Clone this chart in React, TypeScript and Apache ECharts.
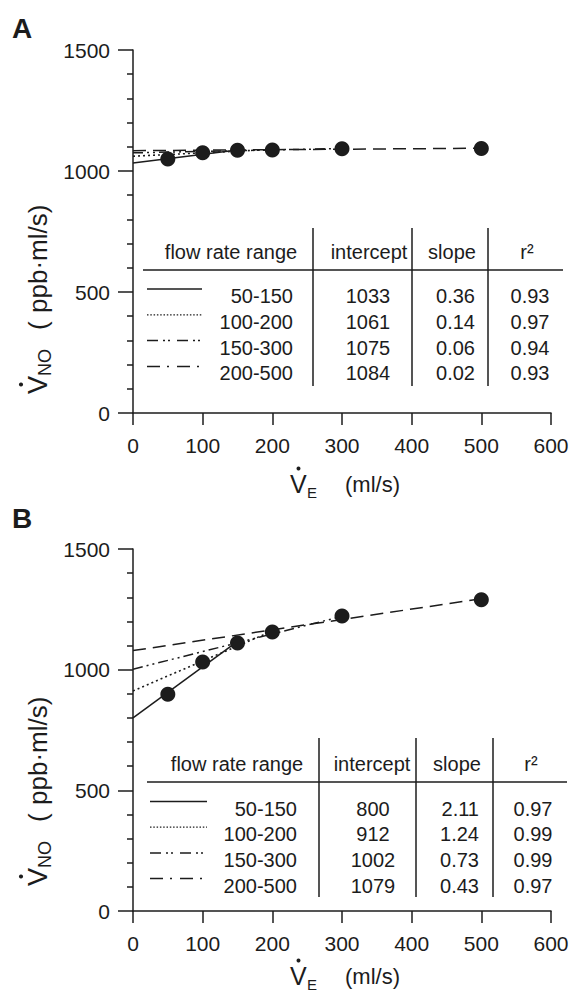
import React, { useEffect, useRef } from "react";
import * as echarts from "echarts";

// ---------- data ----------
const flowRates = [50, 100, 150, 200, 300, 500];
const vnoA = [1050, 1075, 1086, 1087, 1092, 1093];
const vnoB = [898, 1032, 1110, 1156, 1222, 1290];

const rangeLabels = ["50-150", "100-200", "150-300", "200-500"];
const interceptA = ["1033", "1061", "1075", "1084"];
const slopeA = ["0.36", "0.14", "0.06", "0.02"];
const r2A = ["0.93", "0.97", "0.94", "0.93"];
const interceptB = ["800", "912", "1002", "1079"];
const slopeB = ["2.11", "1.24", "0.73", "0.43"];
const r2B = ["0.97", "0.99", "0.99", "0.97"];

// regression line end points [x0, y0, x1, y1]
const fitLinesA = [
  [0, 1033, 150, 1087],
  [0, 1061, 200, 1089],
  [0, 1075, 300, 1093],
  [0, 1084, 500, 1094],
];
const fitLinesB = [
  [0, 800, 150, 1117],
  [0, 912, 200, 1160],
  [0, 1002, 300, 1221],
  [0, 1079, 500, 1294],
];

const FONT = "'Liberation Sans', Arial, Helvetica, sans-serif";
const INK = "#1c1c1c";
const plotDash: any[] = ["solid", [2, 3], [10, 4, 2, 4, 2, 4], [13, 7]];
const legendDash: any[] = [null, [1.5, 1.8], [11, 5, 2, 3, 2, 7], [13, 7, 2, 8]];

function txt(x: number, y: number, text: string, size: number, align = "left", extra: any = {}) {
  return {
    type: "text",
    x,
    y,
    silent: true,
    style: { text, fill: INK, fontSize: size, fontFamily: FONT, align, verticalAlign: "middle", ...extra },
  };
}
function ln(x1: number, y1: number, x2: number, y2: number, w = 1.5, dash: any = null) {
  return {
    type: "line",
    silent: true,
    shape: { x1, y1, x2, y2 },
    style: { stroke: INK, lineWidth: w, lineDash: dash },
  };
}

function table(c: any, intercepts: string[], slopes: string[], r2s: string[]) {
  const els: any[] = [];
  c.vx.forEach((x: number) => els.push(ln(x, c.vTop, x, c.vBot, 1.5)));
  els.push(ln(c.hx1, c.hy, c.hx2, c.hy, 1.5));
  els.push(txt(c.hdr[0], c.hdrY, "flow rate range", 20, "center"));
  els.push(txt(c.hdr[1], c.hdrY, "intercept", 20, "center"));
  els.push(txt(c.hdr[2], c.hdrY, "slope", 20, "center"));
  els.push(txt(c.hdr[3], c.hdrY, "r²", 20, "center"));
  rangeLabels.forEach((r, i) => {
    const y = c.row0 + i * c.rowH;
    els.push(ln(c.lx1, y - 7, c.lx2, y - 7, i === 1 ? 1.2 : 1.5, legendDash[i]));
    els.push(txt(c.rangeR, y, r, 20, "right"));
    els.push(txt(c.intC, y, intercepts[i], 20, "center"));
    els.push(txt(c.slopeR, y, slopes[i], 20, "right"));
    els.push(txt(c.r2C, y, r2s[i], 20, "center"));
  });
  return els;
}

function yTitle(x: number, y: number) {
  return {
    type: "group",
    x,
    y,
    rotation: Math.PI / 2,
    children: [
      txt(0, 0, "V", 27, "left"),
      { type: "circle", shape: { cx: 9.5, cy: -17, r: 2.1 }, style: { fill: INK } },
      txt(18, 7, "NO", 18, "left"),
      txt(64, 0, "(", 26, "left"),
      txt(81, 0, "ppb·ml/s)", 26, "left"),
    ],
  };
}
function xTitle(x: number, y: number) {
  return {
    type: "group",
    x,
    y,
    children: [
      txt(0, 0, "V", 25, "left"),
      { type: "circle", shape: { cx: 8.5, cy: -15.5, r: 2 }, style: { fill: INK } },
      txt(17, 8, "E", 15, "left"),
      txt(55, 0, "(ml/s)", 22, "left"),
    ],
  };
}

function axesPair(gridIndex: number) {
  const x = {
    type: "value",
    gridIndex,
    min: 0,
    max: 600,
    interval: 100,
    axisLine: { onZero: false, lineStyle: { color: INK, width: 1.5 } },
    axisTick: { length: 12, lineStyle: { color: INK, width: 1.5 } },
    axisLabel: { fontSize: 21, margin: 22, color: INK, fontFamily: FONT, formatter: (v: number) => String(v) },
    splitLine: { show: false },
  };
  const y = {
    type: "value",
    gridIndex,
    min: 0,
    max: 1500,
    interval: 500,
    axisLine: { show: true, onZero: false, lineStyle: { color: INK, width: 1.5 } },
    axisTick: { show: true, length: 15, lineStyle: { color: INK, width: 1.5 } },
    minorTick: { show: true, splitNumber: 5, length: 6, lineStyle: { color: INK, width: 1.5 } },
    axisLabel: { fontSize: 21, margin: 23, color: INK, fontFamily: FONT, formatter: (v: number) => String(v) },
    splitLine: { show: false },
  };
  return { x, y };
}

function fitSeries(lines: number[][], idx: number) {
  return lines.map((l, i) => ({
    type: "line",
    xAxisIndex: idx,
    yAxisIndex: idx,
    data: [
      [l[0], l[1]],
      [l[2], l[3]],
    ],
    symbol: "none",
    silent: true,
    lineStyle: { color: INK, width: i === 1 ? 1.6 : 1.5, type: plotDash[i] },
    z: 2,
  }));
}

function pointSeries(values: number[], idx: number) {
  return {
    type: "scatter",
    xAxisIndex: idx,
    yAxisIndex: idx,
    data: flowRates.map((f, i) => [f, values[i]]),
    symbol: "circle",
    symbolSize: 15,
    itemStyle: { color: INK, opacity: 1 },
    z: 5,
  };
}

export default function App() {
  const ref = useRef<HTMLDivElement>(null);
  useEffect(() => {
    document.body.style.margin = "0";
    const chart = echarts.init(ref.current!, null, { renderer: "svg" });
    const a = axesPair(0);
    const b = axesPair(1);
    const tableA = {
      vx: [313, 412, 488],
      vTop: 228,
      vBot: 386,
      hx1: 143,
      hx2: 563,
      hy: 270,
      hdrY: 252,
      hdr: [231, 369, 452, 527],
      row0: 296,
      rowH: 25.8,
      lx1: 147,
      lx2: 202,
      rangeR: 293,
      intC: 368,
      slopeR: 475,
      r2C: 530,
    };
    const tableB = {
      vx: [319, 416, 493],
      vTop: 738,
      vBot: 897,
      hx1: 147,
      hx2: 567,
      hy: 782,
      hdrY: 764,
      hdr: [237, 372, 457, 531],
      row0: 808.5,
      rowH: 25.7,
      lx1: 150,
      lx2: 207,
      rangeR: 297,
      intC: 373,
      slopeR: 479,
      r2C: 533,
    };
    chart.setOption({
      animation: false,
      backgroundColor: "#ffffff",
      grid: [
        { left: 133, top: 50, width: 418, height: 363 },
        { left: 133, top: 549, width: 418, height: 362 },
      ],
      xAxis: [a.x, b.x],
      yAxis: [a.y, b.y],
      series: [
        ...fitSeries(fitLinesA, 0),
        ...fitSeries(fitLinesB, 1),
        pointSeries(vnoA, 0),
        pointSeries(vnoB, 1),
      ],
      graphic: [
        txt(12, 28, "A", 28, "left", { fontWeight: "bold" }),
        txt(12, 518, "B", 28, "left", { fontWeight: "bold" }),
        yTitle(38, 394),
        yTitle(38, 886),
        xTitle(290, 484),
        xTitle(290, 976),
        ...table(tableA, interceptA, slopeA, r2A),
        ...table(tableB, interceptB, slopeB, r2B),
      ],
    });
    return () => chart.dispose();
  }, []);
  return <div ref={ref} style={{ width: 580, height: 993 }} />;
}
